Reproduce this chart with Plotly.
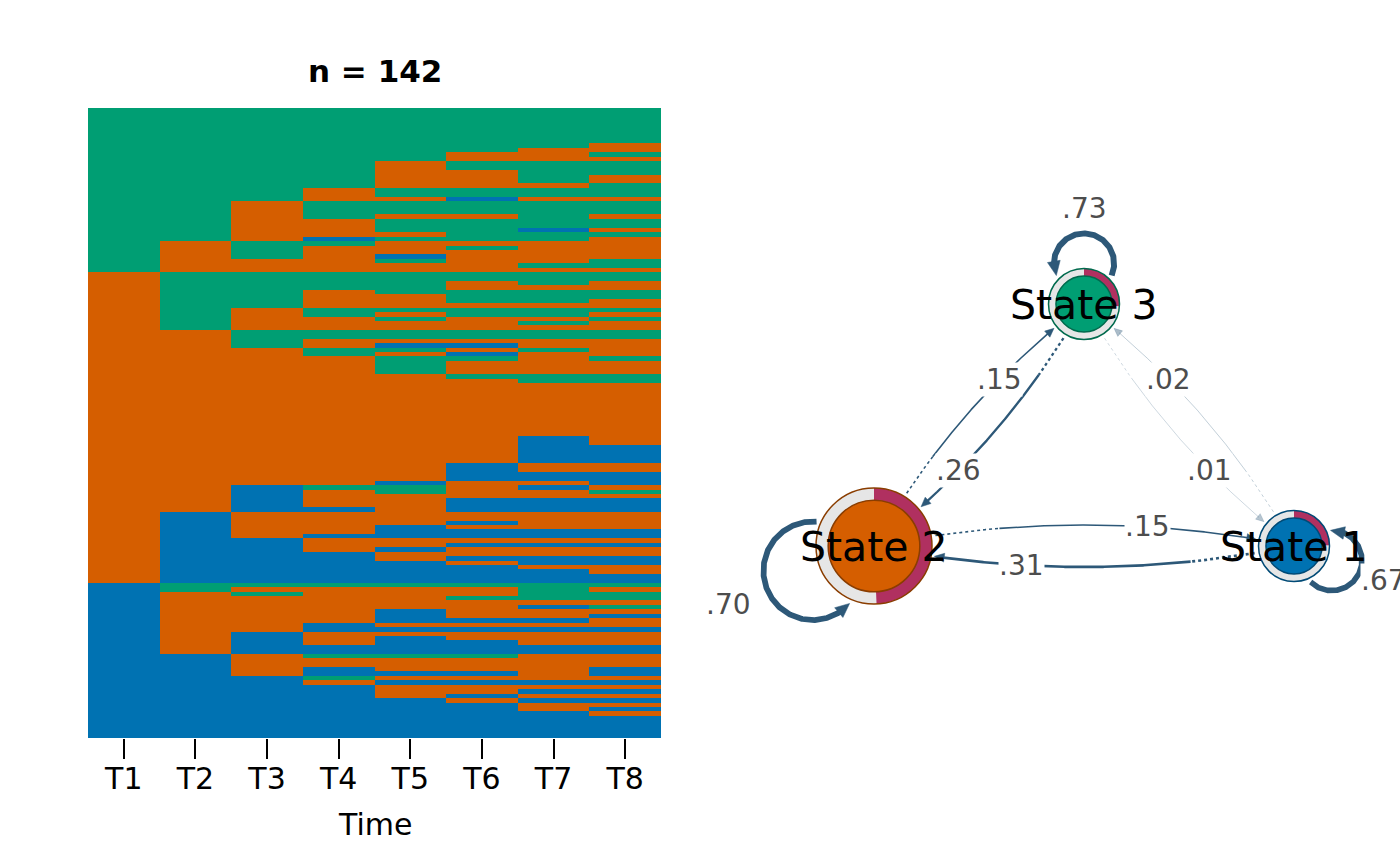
import numpy as np
import plotly.graph_objects as go

W, H = 1400, 866

state_names = ["State 1", "State 2", "State 3"]
state_colors = ["#0072B2", "#D55E00", "#009E73"]
state_borders = ["#004A76", "#8A3D00", "#006A4D"]
time_labels = ["T1", "T2", "T3", "T4", "T5", "T6", "T7", "T8"]

# one string per sequence, top row of the index plot first (1/2/3 = state)
sequences = [
    "33333333", "33333333", "33333333", "33333333", "33333333", "33333333",
    "33333333", "33333333", "33333332", "33333322", "33333223", "33333222",
    "33332333", "33332333", "33332233", "33332232", "33332232", "33332223",
    "33323333", "33323333", "33322122", "33233333", "33233333", "33233333",
    "33232232", "33223333", "33223333", "33223312", "33222333", "33213332",
    "32332222", "32322322", "32322222", "32321222", "32223223", "32222233",
    "32222222", "23333333", "23333333", "23333232", "23333222", "23323333",
    "23322333", "23322332", "23322222", "23233333", "23232332", "23223223",
    "23222232", "23222222", "22333333", "22333333", "22322222", "22321122",
    "22233232", "22232122", "22223323", "22223222", "22223222", "22223222",
    "22222333", "22222233", "22222222", "22222222", "22222222", "22222222",
    "22222222", "22222222", "22222222", "22222222", "22222222", "22222222",
    "22222222", "22222222", "22222212", "22222212", "22222211", "22222211",
    "22222211", "22222211", "22222122", "22222122", "22222111", "22222111",
    "22221221", "22133212", "22123223", "22122222", "22122111", "22122111",
    "22112111", "21222222", "21222222", "21222122", "21221222", "21221111",
    "21211111", "21122222", "21122111", "21121222", "21112222", "21112111",
    "21111211", "21111122", "21111112", "21111111", "21111111", "13333333",
    "13222232", "12322233", "12222333", "12222222", "12222213", "12221222",
    "12221221", "12221112", "12212222", "12211111", "12122222", "12121222",
    "12121122", "12111111", "12111111", "11233322", "11222222", "11222222",
    "11212221", "11211121", "11132222", "11121111", "11112222", "11112211",
    "11112122", "11111211", "11111122", "11111121", "11111112", "11111111",
    "11111111", "11111111", "11111111", "11111111",
]

# transition probabilities
edge_from = [3, 3, 3, 2, 2, 2, 1, 1, 1]
edge_to = [3, 2, 1, 3, 2, 1, 3, 2, 1]
edge_weight = [0.73, 0.26, 0.01, 0.15, 0.70, 0.15, 0.02, 0.31, 0.67]

# network layout (pixel coordinates of the right panel)
node_xy = {1: (1294, 546), 2: (874, 546), 3: (1084, 304)}
node_r = {1: 35.5, 2: 58.0, 3: 35.5}
loop_angle = {1: 21, 2: 158, 3: -90}
outer_edges = {(2, 3), (1, 2), (1, 3)}
edge_rgb = (45, 88, 120)
pie_color = "#B03060"
ring_color = "#E6E6E6"

fig = go.Figure()

# ---- sequence index plot ----
z = [[int(c) for c in s] for s in sequences[::-1]]
cs = [[0, state_colors[0]], [1 / 3, state_colors[0]], [1 / 3, state_colors[1]],
      [2 / 3, state_colors[1]], [2 / 3, state_colors[2]], [1, state_colors[2]]]
fig.add_trace(go.Heatmap(z=z, x=list(range(8)), y=list(range(len(z))),
                         colorscale=cs, zmin=1, zmax=3, showscale=False,
                         hoverinfo="skip"))

# initial state distribution -> pies
n_seq = len(sequences)
init_p = {k: sum(s[0] == str(k) for s in sequences) / n_seq for k in (1, 2, 3)}


def rgba(a):
    return "rgba(%d,%d,%d,%.2f)" % (edge_rgb + (a,))


def fmt(w):
    return ("%.2f" % w).lstrip("0")


def draw_polyline(pts, width, alpha, arrow_len, dotted):
    seg = np.hypot(*np.diff(pts, axis=0).T)
    s = np.concatenate([[0], np.cumsum(seg)])
    total = s[-1]
    tip = pts[-1]
    back = pts[np.searchsorted(s, total - arrow_len)]
    u = (tip - back) / np.hypot(*(tip - back))
    nrm = np.array([-u[1], u[0]])
    line = pts[s <= total - 0.8 * arrow_len]
    col = rgba(alpha)
    if dotted:
        k = (s[:len(line)] <= 0.2 * total).sum()
        parts = [(line[:k + 1], "3px,3px"), (line[k:], "solid")]
    else:
        parts = [(line, "solid")]
    for p, dash in parts:
        fig.add_trace(go.Scatter(x=p[:, 0], y=p[:, 1], mode="lines",
                                 line=dict(color=col, width=width, dash=dash),
                                 xaxis="x2", yaxis="y2", hoverinfo="skip"))
    base = tip - arrow_len * u
    hw = arrow_len * 0.45
    tri = np.array([tip, base + hw * nrm, base - hw * nrm, tip])
    fig.add_trace(go.Scatter(x=tri[:, 0], y=tri[:, 1], mode="lines", fill="toself",
                             fillcolor=col, line=dict(color=col, width=0.5),
                             xaxis="x2", yaxis="y2", hoverinfo="skip"))


cx = np.mean([p[0] for p in node_xy.values()])
cy = np.mean([p[1] for p in node_xy.values()])
labels = []

for i, j, w in zip(edge_from, edge_to, edge_weight):
    width = 0.6 + 6.5 * w
    alpha = min(1.0, 0.3 + 5 * w)
    alen = 8 + 6 * w
    if i == j:
        nc = np.array(node_xy[i], float)
        r = node_r[i]
        phi = np.radians(loop_angle[i])
        ud = np.array([np.cos(phi), np.sin(phi)])
        lc = nc + 1.14 * r * ud
        rl = 0.85 * r
        th = np.linspace(phi + np.pi, phi - np.pi, 721)
        pts = lc + rl * np.column_stack([np.cos(th), np.sin(th)])
        keep = np.hypot(*(pts - nc).T) > r + 4
        draw_polyline(pts[keep], width + 0.6, 1.0, alen + 2, False)
        labels.append((nc + 2.7 * r * ud, fmt(w)))
        continue
    a = np.array(node_xy[i], float)
    b = np.array(node_xy[j], float)
    d = b - a
    L = np.hypot(*d)
    n = np.array([d[1], -d[0]]) / L
    m = (a + b) / 2
    away = np.dot(n, m - np.array([cx, cy])) > 0
    if ((i, j) in outer_edges) != away:
        n = -n
    c = m + 0.1 * L * n
    t = np.linspace(0, 1, 801)[:, None]
    pts = (1 - t) ** 2 * a + 2 * t * (1 - t) * c + t ** 2 * b
    keep = (np.hypot(*(pts - a).T) > node_r[i] + 4) & (np.hypot(*(pts - b).T) > node_r[j] + 3)
    draw_polyline(pts[keep], width, alpha, alen, True)
    tl = 0.65
    lp = (1 - tl) ** 2 * a + 2 * tl * (1 - tl) * c + tl ** 2 * b
    labels.append((lp, fmt(w)))

# ---- nodes ----
shapes = []
for k in (1, 2, 3):
    x0, y0 = node_xy[k]
    r = node_r[k]
    ri = 0.79 * r
    col, bd = state_colors[k - 1], state_borders[k - 1]
    shapes.append(dict(type="circle", xref="x2", yref="y2", x0=x0 - r, x1=x0 + r,
                       y0=y0 - r, y1=y0 + r, fillcolor=ring_color, line=dict(width=0)))
    th = np.radians(np.linspace(-90, -90 + 360 * init_p[k], 120))
    path = "M %.2f,%.2f " % (x0, y0) + " ".join(
        "L %.2f,%.2f" % (x0 + r * np.cos(a_), y0 + r * np.sin(a_)) for a_ in th) + " Z"
    shapes.append(dict(type="path", xref="x2", yref="y2", path=path,
                       fillcolor=pie_color, line=dict(width=0)))
    shapes.append(dict(type="circle", xref="x2", yref="y2", x0=x0 - r, x1=x0 + r,
                       y0=y0 - r, y1=y0 + r, line=dict(color=bd, width=1.5)))
    shapes.append(dict(type="circle", xref="x2", yref="y2", x0=x0 - ri, x1=x0 + ri,
                       y0=y0 - ri, y1=y0 + ri, fillcolor=col, line=dict(color=bd, width=1.5)))

annotations = []
for lp, txt in labels:
    annotations.append(dict(x=lp[0], y=lp[1], xref="x2", yref="y2", text=txt,
                            showarrow=False, bgcolor="white", borderpad=0,
                            font=dict(size=28, color="#4D4D4D")))
for k in (1, 2, 3):
    annotations.append(dict(x=node_xy[k][0], y=node_xy[k][1] + 1, xref="x2", yref="y2",
                            text=state_names[k - 1], showarrow=False,
                            font=dict(size=41, color="black")))
annotations.append(dict(x=374.5 / W, y=1 - 71 / H, xref="paper", yref="paper",
                        xanchor="center", yanchor="middle",
                        text="<b>n = %d</b>" % n_seq, showarrow=False,
                        font=dict(size=31, color="black")))
annotations.append(dict(x=374.5 / W, y=1 - 824 / H, xref="paper", yref="paper",
                        xanchor="center", yanchor="middle",
                        text="Time", showarrow=False, font=dict(size=30, color="black")))

fig.update_layout(
    width=W, height=H, margin=dict(l=0, r=0, t=0, b=0),
    paper_bgcolor="white", plot_bgcolor="white", showlegend=False,
    font=dict(family="DejaVu Sans", color="black"),
    xaxis=dict(domain=[88 / W, 661 / W], range=[-0.5, 7.5], tickvals=list(range(8)),
               ticktext=time_labels, ticks="outside", ticklen=20, tickwidth=1.5,
               tickcolor="black", tickfont=dict(size=30), ticklabelstandoff=-6,
               showgrid=False, zeroline=False, showline=False, fixedrange=True),
    yaxis=dict(domain=[1 - 738 / H, 1 - 108 / H], range=[-0.5, len(z) - 0.5],
               visible=False, fixedrange=True),
    xaxis2=dict(domain=[0.5, 1], range=[700, 1400], visible=False, anchor="y2",
                fixedrange=True),
    yaxis2=dict(domain=[0, 1], range=[H, 0], visible=False, anchor="x2",
                fixedrange=True),
    shapes=shapes, annotations=annotations,
)

# the page body keeps its default 8px margin otherwise
fig.write_html("out.html", config={"displayModeBar": False},
               post_script="document.body.style.margin='0';")
